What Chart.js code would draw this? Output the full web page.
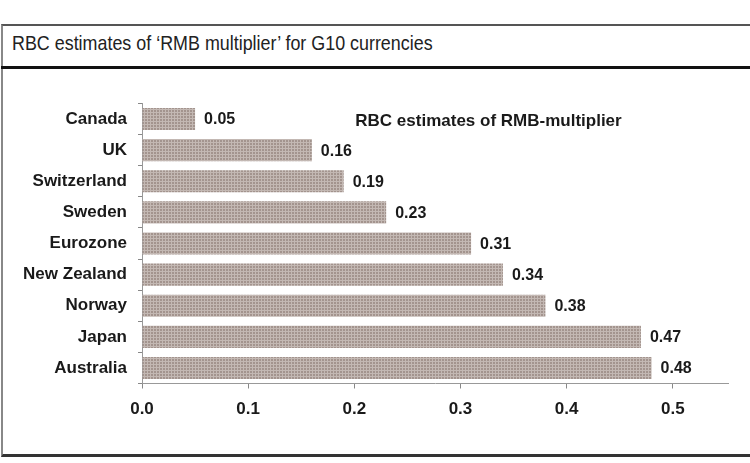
<!DOCTYPE html>
<html>
<head>
<meta charset="utf-8">
<script src="https://cdn.jsdelivr.net/npm/chart.js@4.4.1/dist/chart.umd.min.js"></script>
<style>
  html, body { margin:0; padding:0; background:#fff; }
  body { width:750px; height:463px; position:relative; overflow:hidden; }
  #frame { position:absolute; left:1px; top:24px; width:749px; height:433px;
           border-top:2px solid #555; border-left:2px solid #888; border-bottom:3px solid #333; box-sizing:border-box; }
  #titlebar { position:absolute; left:1px; top:66px; width:749px; height:0; border-top:3px solid #111; }
  #title { position:absolute; left:12px; top:31px; font-family:"Liberation Sans", Arial, sans-serif;
           font-size:21px; color:#222; white-space:nowrap; transform:scaleX(0.852); transform-origin:0 0; }
  #wrap { position:absolute; left:0; top:70px; width:750px; height:383px; }
</style>
</head>
<body>
<div id="frame"></div>
<div id="titlebar"></div>
<div id="title">RBC estimates of ‘RMB multiplier’ for G10 currencies</div>
<div id="wrap"><canvas id="c" width="750" height="383"></canvas></div>
<script>
const categories = ["Canada", "UK", "Switzerland", "Sweden", "Eurozone", "New Zealand", "Norway", "Japan", "Australia"];
const values = [0.05, 0.16, 0.19, 0.23, 0.31, 0.34, 0.38, 0.47, 0.48];
const xTicks = [0, 0.1, 0.2, 0.3, 0.4, 0.5];
const seriesName = "RBC estimates of RMB-multiplier";

function makePattern() {
  const p = document.createElement('canvas');
  p.width = 3; p.height = 3;
  const g = p.getContext('2d');
  g.fillStyle = '#a3948e'; g.fillRect(0, 0, 3, 3);
  g.fillStyle = '#c3b8b3'; g.fillRect(0, 0, 3, 1); g.fillRect(0, 0, 1, 3);
  return g.createPattern(p, 'repeat');
}

const FONT = { family: '"Liberation Sans", Arial, sans-serif', size: 17, weight: 'bold' };

const valueLabels = {
  id: 'valueLabels',
  afterDatasetsDraw(chart) {
    const ctx = chart.ctx;
    const meta = chart.getDatasetMeta(0);
    ctx.save();
    ctx.font = 'bold 16px "Liberation Sans", Arial, sans-serif';
    ctx.fillStyle = '#1a1a1a';
    ctx.textBaseline = 'middle';
    ctx.textAlign = 'left';
    meta.data.forEach((bar, i) => {
      ctx.fillText(values[i].toFixed(2), bar.x + 9, bar.y + 1);
    });
    ctx.restore();
  }
};

const innerTitle = {
  id: 'innerTitle',
  afterDraw(chart) {
    const ctx = chart.ctx;
    const xs = chart.scales.x;
    ctx.save();
    ctx.font = 'bold 17px "Liberation Sans", Arial, sans-serif';
    ctx.fillStyle = '#1a1a1a';
    ctx.textBaseline = 'middle';
    ctx.textAlign = 'left';
    ctx.fillText(seriesName, xs.getPixelForValue(0.2) + 1, chart.getDatasetMeta(0).data[0].y + 2);
    ctx.restore();
  }
};

new Chart(document.getElementById('c'), {
  type: 'bar',
  data: {
    labels: categories,
    datasets: [{
      label: seriesName,
      data: values,
      backgroundColor: makePattern(),
      borderWidth: 0,
      categoryPercentage: 1,
      barPercentage: 0.71
    }]
  },
  options: {
    indexAxis: 'y',
    responsive: false,
    animation: false,
    layout: { padding: { top: 33.5, right: 22, left: 0, bottom: 0 } },
    plugins: { legend: { display: false }, tooltip: { enabled: false } },
    scales: {
      x: {
        type: 'linear',
        min: 0,
        max: 0.552,
        afterBuildTicks(s) { s.ticks = xTicks.map(v => ({ value: v })); },
        afterFit(s) { s.height = 69.5; },
        border: { display: true, color: '#999', width: 1, dash: [2, 2] },
        grid: { display: true, drawOnChartArea: false, drawTicks: true, tickLength: 5, color: '#888' },
        ticks: { color: '#1a1a1a', font: FONT, padding: 11, maxRotation: 0,
                 callback: v => Number(v).toFixed(1) }
      },
      y: {
        afterFit(s) { s.width = 142; },
        border: { display: true, color: '#999', width: 1 },
        grid: { display: true, drawOnChartArea: false, drawTicks: true, tickLength: 4, color: '#888', offset: true },
        ticks: { color: '#1a1a1a', font: FONT, padding: 11 }
      }
    }
  },
  plugins: [valueLabels, innerTitle]
});
</script>
</body>
</html>
